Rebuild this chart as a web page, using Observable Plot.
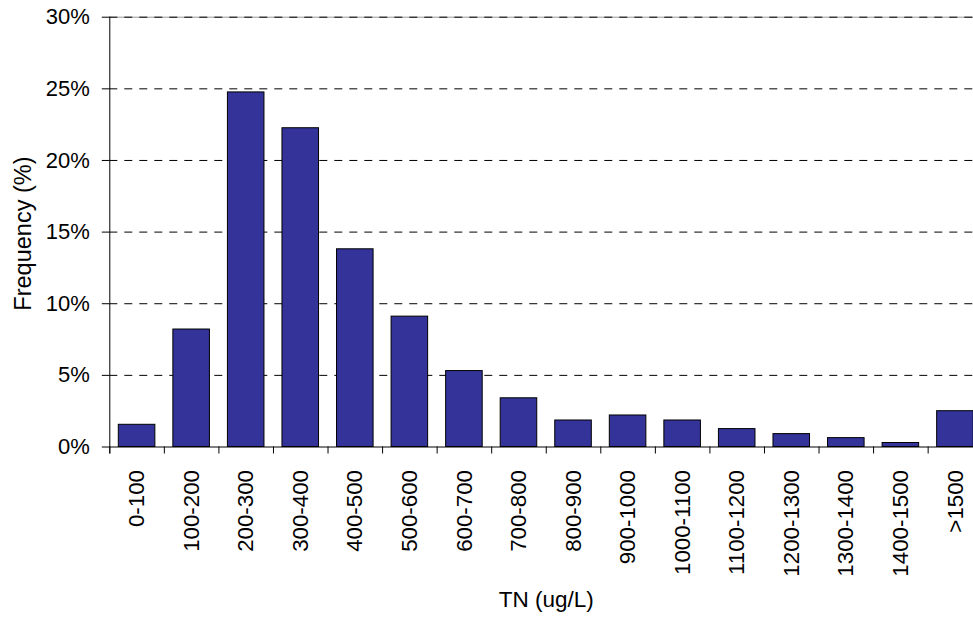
<!DOCTYPE html>
<html>
<head>
<meta charset="utf-8">
<script src="https://cdn.jsdelivr.net/npm/d3@7"></script>
<script src="https://cdn.jsdelivr.net/npm/@observablehq/plot@0.6"></script>
<style>
  html, body { margin: 0; padding: 0; background: #fff; overflow: hidden; }
</style>
</head>
<body>
<div id="chart"></div>
<script>
const categories = ["0-100","100-200","200-300","300-400","400-500","500-600","600-700","700-800","800-900","900-1000","1000-1100","1100-1200","1200-1300","1300-1400","1400-1500",">1500"];
const frequency = [1.55, 8.2, 24.75, 22.25, 13.8, 9.1, 5.3, 3.4, 1.85, 2.2, 1.85, 1.25, 0.9, 0.62, 0.28, 2.5];
const yTicks = [0, 5, 10, 15, 20, 25, 30];
const xTitle = "TN (ug/L)";
const yTitle = "Frequency (%)";

const data = categories.map((c, i) => ({category: c, value: frequency[i]}));

const W = 973, H = 617;
const mL = 109.3, mR = -9.2, mT = 16.7, mB = 170.5;
const plotH = H - mT - mB;
const step = (W - mL - mR) / categories.length;
const font = "'Liberation Sans', Arial, Helvetica, sans-serif";

const chart = Plot.plot({
  width: W,
  height: H,
  marginLeft: mL,
  marginRight: mR,
  marginTop: mT,
  marginBottom: mB,
  style: {fontFamily: font, fontSize: "22px", color: "#000", background: "#fff"},
  x: {domain: categories, paddingInner: 0.33, paddingOuter: 0.165, round: false},
  y: {domain: [0, 30]},
  marks: [
    Plot.ruleY([30], {stroke: "#999", strokeWidth: 1}),
    Plot.ruleY(yTicks.filter(d => d > 0), {stroke: "#000", strokeWidth: 1, strokeDasharray: "8,7"}),
    Plot.barY(data, {x: "category", y: "value", fill: "#333399", stroke: "#000", strokeWidth: 1}),
    Plot.ruleY([0], {stroke: "#000", strokeWidth: 1}),
    Plot.ruleX(categories, {x: d => d, dx: -step / 2, stroke: "#000", insetTop: plotH, insetBottom: -7}),
    Plot.ruleX([categories[0]], {x: d => d, dx: -step / 2, stroke: "#000", insetBottom: -7}),
    Plot.axisY({ticks: yTicks, tickFormat: d => d + "%", tickSize: 7.5, tickPadding: 12.5, fontSize: 22, label: null}),
    Plot.axisX({tickSize: 0, tickRotate: -90, tickPadding: 23, fontSize: 22.3, label: null}),
    Plot.text([xTitle], {frameAnchor: "bottom", dy: 160, text: d => d, fontSize: 22.5, fill: "#000"}),
    Plot.text([yTitle], {frameAnchor: "left", textAnchor: "middle", lineAnchor: "middle", dx: -86.5, dy: 1.5, rotate: -90, text: d => d, fontSize: 23.5, fill: "#000"})
  ]
});
document.getElementById("chart").appendChild(chart);
</script>
</body>
</html>
